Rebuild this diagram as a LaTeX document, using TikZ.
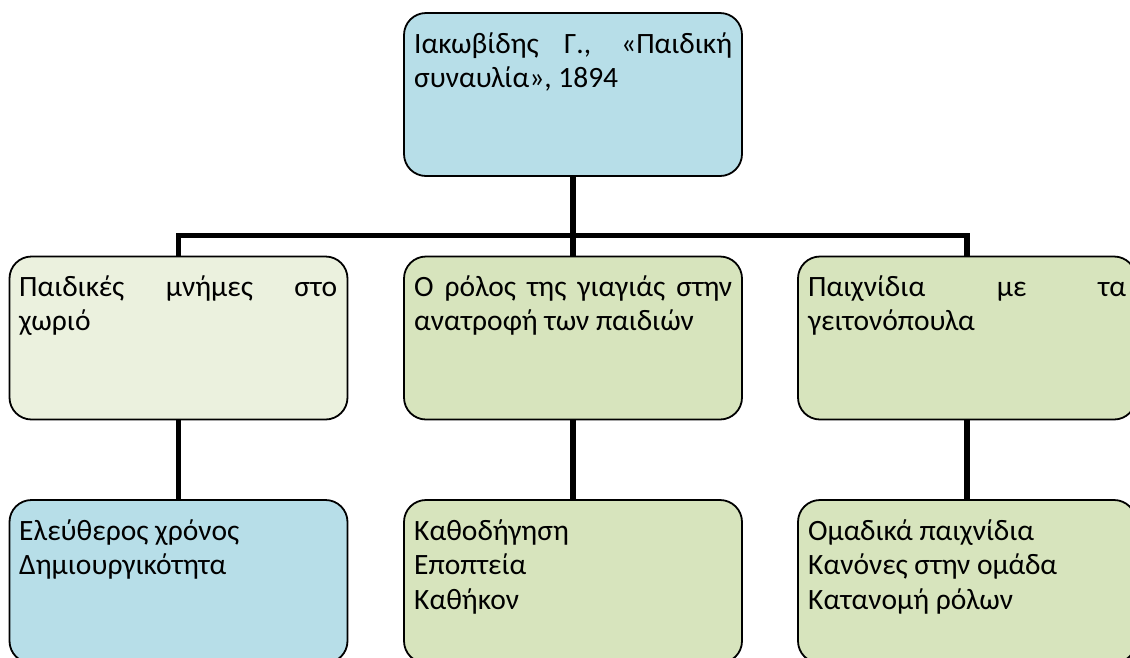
\documentclass[tikz,border=0pt]{standalone}
\usepackage{fontspec}
\setmainfont{Carlito}
\hyphenpenalty=10000
\definecolor{bluebox}{RGB}{183,222,232}
\definecolor{palegreen}{RGB}{235,241,222}
\definecolor{greenbox}{RGB}{215,228,189}
\tikzset{
  box/.style={draw=black, line width=1.8pt, rounded corners=22pt, minimum width=338pt, minimum height=163pt, inner sep=0pt},
  boxtext/.style={anchor=base west, inner sep=0pt, text width=318pt, align=justify, font=\fontsize{29.5}{34.5}\selectfont},
  link/.style={line width=5.5pt},
}
\begin{document}
\begin{tikzpicture}[x=1pt,y=1pt,yscale=-1,xscale=1]
\useasboundingbox (0,0) rectangle (1130,657);
\clip (0,0) rectangle (1130,657);

%Shape: Rounded Rect [top]
\node[box, fill=bluebox] (source) at (573,94.5) {};
%Shape: Rounded Rect [middle row]
\node[box, fill=palegreen] (memories) at (178.5,338) {};
\node[box, fill=greenbox] (grandma) at (573,338) {};
\node[box, fill=greenbox] (games) at (967,338) {};
%Shape: Rounded Rect [bottom row]
\node[box, fill=bluebox] (leisure) at (178.5,581.5) {};
\node[box, fill=greenbox] (guidance) at (573,581.5) {};
\node[box, fill=greenbox] (teams) at (967,581.5) {};

%Straight Lines
\coordinate (bar) at (573,235.5);
\draw[link] (source) -- (bar);
\draw[link] (memories.north) |- (bar) -| (games.north);
\draw[link] (bar) -- (grandma.north);
\draw[link] (memories) -- (leisure);
\draw[link] (grandma) -- (guidance);
\draw[link] (games) -- (teams);

% Text Node
\node[boxtext] (sourcetext) at (414,53) {Ιακωβίδης Γ., «Παιδική\linebreak συναυλία», 1894};
% Text Node
\node[boxtext] (memoriestext) at (19,296) {Παιδικές μνήμες στο\linebreak χωριό};
% Text Node
\node[boxtext] (grandmatext) at (414,296) {Ο ρόλος της γιαγιάς στην\linebreak ανατροφή των παιδιών};
% Text Node
\node[boxtext] (gamestext) at (808,296) {Παιχνίδια με τα\linebreak γειτονόπουλα};
% Text Node
\node[boxtext] (leisuretext) at (19,540) {Ελεύθερος χρόνος\\ Δημιουργικότητα};
% Text Node
\node[boxtext] (guidancetext) at (414,540) {Καθοδήγηση\\ Εποπτεία\\ Καθήκον};
% Text Node
\node[boxtext] (teamstext) at (808,540) {Ομαδικά παιχνίδια\\ Κανόνες στην ομάδα\\ Κατανομή ρόλων};
\end{tikzpicture}
\end{document}
